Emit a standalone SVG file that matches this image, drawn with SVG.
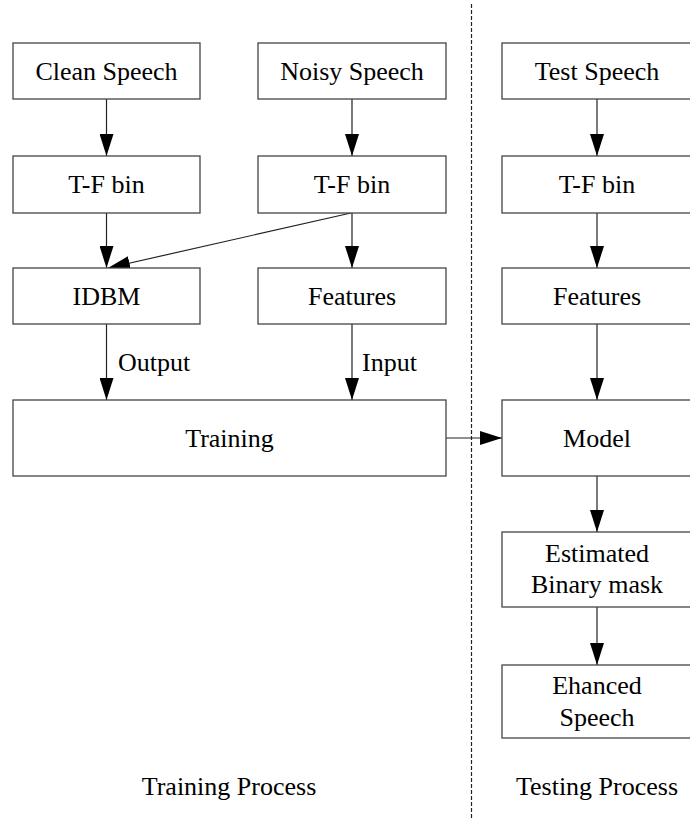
<svg xmlns="http://www.w3.org/2000/svg" width="690" height="819" viewBox="0 0 690 819" font-family="Liberation Serif, Times New Roman, Tinos, Times, serif" font-size="26">
<style>
.box{fill:#fff;stroke:#444;stroke-width:1.3}
.t{text-anchor:middle}
.c{stroke:#222;stroke-width:1.2;fill:none;marker-end:url(#ah)}
</style>
<defs>
<marker id="ah" markerUnits="userSpaceOnUse" markerWidth="22" markerHeight="14" refX="22" refY="7" orient="auto">
<path d="M0,0 L22,7 L0,14 z" fill="#000"/>
</marker>
</defs>
<rect width="690" height="819" fill="#fff"/>
<line x1="471.5" y1="4" x2="471.5" y2="819" stroke="#222" stroke-width="1.2" stroke-dasharray="4,2"/>
<g id="connectors">
<line class="c" x1="106.5" y1="99" x2="106.5" y2="156"/>
<line class="c" x1="106.5" y1="213" x2="106.5" y2="268"/>
<line class="c" x1="352" y1="99" x2="352" y2="156"/>
<line class="c" x1="352" y1="213" x2="352" y2="268"/>
<line class="c" x1="351" y1="213" x2="108" y2="268"/>
<line class="c" x1="106.5" y1="324" x2="106.5" y2="400"/>
<line class="c" x1="352" y1="324" x2="352" y2="400"/>
<line class="c" x1="446" y1="438" x2="502" y2="438"/>
<line class="c" x1="597" y1="99" x2="597" y2="156"/>
<line class="c" x1="597" y1="213" x2="597" y2="268"/>
<line class="c" x1="597" y1="324" x2="597" y2="400"/>
<line class="c" x1="597" y1="476" x2="597" y2="532"/>
<line class="c" x1="597" y1="607" x2="597" y2="665"/>
<text x="118" y="371" font-family="Liberation Serif, serif">Output</text>
<text x="362" y="371" font-family="Liberation Serif, serif">Input</text>
</g>
<g id="clean"><rect class="box" x="13" y="43" width="187" height="56"/><text class="t" x="106.5" y="80">Clean Speech</text></g>
<g id="noisy"><rect class="box" x="258" y="43" width="188" height="56"/><text class="t" x="352" y="80">Noisy Speech</text></g>
<g id="test"><rect class="box" x="502" y="43" width="195" height="56"/><text class="t" x="597" y="80">Test Speech</text></g>
<g id="tf1"><rect class="box" x="13" y="156" width="187" height="57"/><text class="t" x="106.5" y="193">T-F bin</text></g>
<g id="tf2"><rect class="box" x="258" y="156" width="188" height="57"/><text class="t" x="352" y="193">T-F bin</text></g>
<g id="tf3"><rect class="box" x="502" y="156" width="195" height="57"/><text class="t" x="597" y="193">T-F bin</text></g>
<g id="idbm"><rect class="box" x="13" y="268" width="187" height="56"/><text class="t" x="106.5" y="305">IDBM</text></g>
<g id="feat1"><rect class="box" x="258" y="268" width="188" height="56"/><text class="t" x="352" y="305">Features</text></g>
<g id="feat2"><rect class="box" x="502" y="268" width="195" height="56"/><text class="t" x="597" y="305">Features</text></g>
<g id="training"><rect class="box" x="13" y="400" width="433" height="76"/><text class="t" x="229.5" y="447">Training</text></g>
<g id="model"><rect class="box" x="502" y="400" width="195" height="76"/><text class="t" x="597" y="447">Model</text></g>
<g id="estimated"><rect class="box" x="502" y="532" width="195" height="75"/><text class="t" x="597" y="562">Estimated</text><text class="t" x="597" y="593">Binary mask</text></g>
<g id="enhanced"><rect class="box" x="502" y="665" width="195" height="73"/><text class="t" x="597" y="694">Ehanced</text><text class="t" x="597" y="726">Speech</text></g>
<g id="labels"><text class="t" x="229" y="795">Training Process</text><text class="t" x="597" y="795">Testing Process</text></g>
</svg>
